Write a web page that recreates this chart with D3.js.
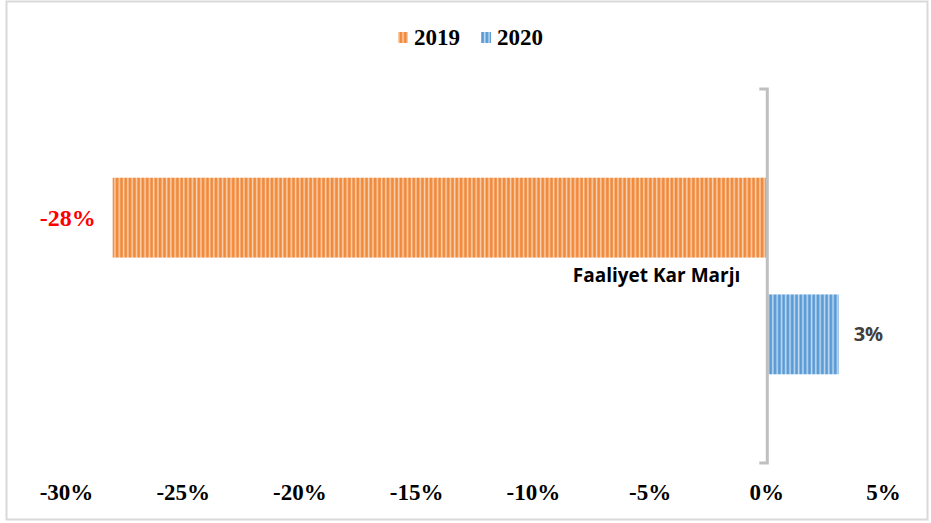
<!DOCTYPE html>
<html>
<head>
<meta charset="utf-8">
<script src="https://cdn.jsdelivr.net/npm/d3@7"></script>
<style>
  body { margin: 0; background: #fff; }
  .serif { font-family: "Liberation Serif", "DejaVu Serif", serif; font-weight: bold; }
  .sans { font-family: "Open Sans", "Noto Sans", sans-serif; font-weight: bold; }
</style>
</head>
<body>
<div id="canvas"></div>
<script>
// chart data
var categories = ["Faaliyet Kar Marjı"];
var seriesNames = ["2019", "2020"];
var values2019 = [-0.28];
var values2020 = [0.031];
var valueLabels = ["-28%", "3%"];
var tickValues = [-0.30, -0.25, -0.20, -0.15, -0.10, -0.05, 0, 0.05];

var width = 931;
var height = 523;

var svg = d3.select("#canvas")
    .append("svg")
    .attr("width", width)
    .attr("height", height);

// stripe patterns for the bars
var defs = svg.append("defs");
function stripes(id, dark, light) {
    var p = defs.append("pattern")
        .attr("id", id)
        .attr("patternUnits", "userSpaceOnUse")
        .attr("width", 4.3)
        .attr("height", 10);
    p.append("rect").attr("width", 4.3).attr("height", 10).attr("fill", dark);
    p.append("rect").attr("x", 2.4).attr("width", 1.5).attr("height", 10).attr("fill", light);
}
stripes("orangeStripe", "#f08a3c", "#fbd3b2");
stripes("blueStripe", "#5b9bd5", "#c4dcf1");
var fills = ["url(#orangeStripe)", "url(#blueStripe)"];

// chart border
svg.append("rect")
    .attr("x", 6.5).attr("y", 1.5)
    .attr("width", 921).attr("height", 518)
    .attr("fill", "none")
    .attr("stroke", "#d9d9d9")
    .attr("stroke-width", 2);

// scales
var x = d3.scaleLinear()
    .domain([-0.30, 0.05])
    .range([66, 883]);

var y = d3.scaleBand()
    .domain(categories)
    .range([89, 463]);

var inner = d3.scaleBand()
    .domain(seriesNames)
    .range([0, y.bandwidth()])
    .paddingInner(0.316)
    .paddingOuter(0.76);

var series = [values2019, values2020];

// bars
seriesNames.forEach(function(s, i) {
    svg.selectAll(".bar" + s)
        .data(series[i])
        .enter()
        .append("rect")
        .attr("x", function(d) { return x(Math.min(0, d)); })
        .attr("y", function(d, j) { return y(categories[j]) + inner(s); })
        .attr("width", function(d) { return Math.abs(x(d) - x(0)); })
        .attr("height", inner.bandwidth())
        .attr("fill", fills[i]);
});

// vertical category axis at 0
var x0 = x(0) + 1;
svg.append("path")
    .attr("d", "M" + (x0 - 8) + "," + 89 + "H" + x0 + "V" + 463 + "H" + (x0 - 8))
    .attr("fill", "none")
    .attr("stroke", "#bfbfbf")
    .attr("stroke-width", 3);

// category label
svg.append("text")
    .attr("class", "sans")
    .attr("x", x(0) - 26)
    .attr("y", y(categories[0]) + y.bandwidth() / 2 + 6)
    .attr("text-anchor", "end")
    .style("font-size", "19px")
    .attr("fill", "#000")
    .text(categories[0]);

// data labels
svg.append("text")
    .attr("class", "serif")
    .attr("x", x(values2019[0]) - 17)
    .attr("y", y(categories[0]) + inner("2019") + inner.bandwidth() / 2 + 8)
    .attr("text-anchor", "end")
    .style("font-size", "24px")
    .attr("fill", "#ff0000")
    .text(valueLabels[0]);

svg.append("text")
    .attr("class", "sans")
    .attr("x", x(values2020[0]) + 15)
    .attr("y", y(categories[0]) + inner("2020") + inner.bandwidth() / 2 + 7)
    .attr("text-anchor", "start")
    .style("font-size", "20px")
    .attr("fill", "#404040")
    .text(valueLabels[1]);

// x axis tick labels
var xAxis = d3.axisBottom(x)
    .tickValues(tickValues)
    .tickSize(0)
    .tickPadding(0)
    .tickFormat(function(d) { return Math.round(d * 100) + "%"; });

var gx = svg.append("g")
    .attr("transform", "translate(0,500)")
    .call(xAxis);
gx.attr("font-family", null).attr("font-size", null);
gx.select(".domain").remove();
gx.selectAll("text")
    .attr("class", "serif")
    .attr("dy", 0)
    .style("font-size", "23px")
    .attr("fill", "#000");

// legend
var legendX = [398, 481];
seriesNames.forEach(function(s, i) {
    svg.append("rect")
        .attr("x", legendX[i])
        .attr("y", 32)
        .attr("width", 10)
        .attr("height", 11)
        .attr("fill", fills[i]);
    svg.append("text")
        .attr("class", "serif")
        .attr("x", legendX[i] + 16)
        .attr("y", 45)
        .style("font-size", "23px")
        .attr("fill", "#000")
        .text(s);
});
</script>
</body>
</html>
